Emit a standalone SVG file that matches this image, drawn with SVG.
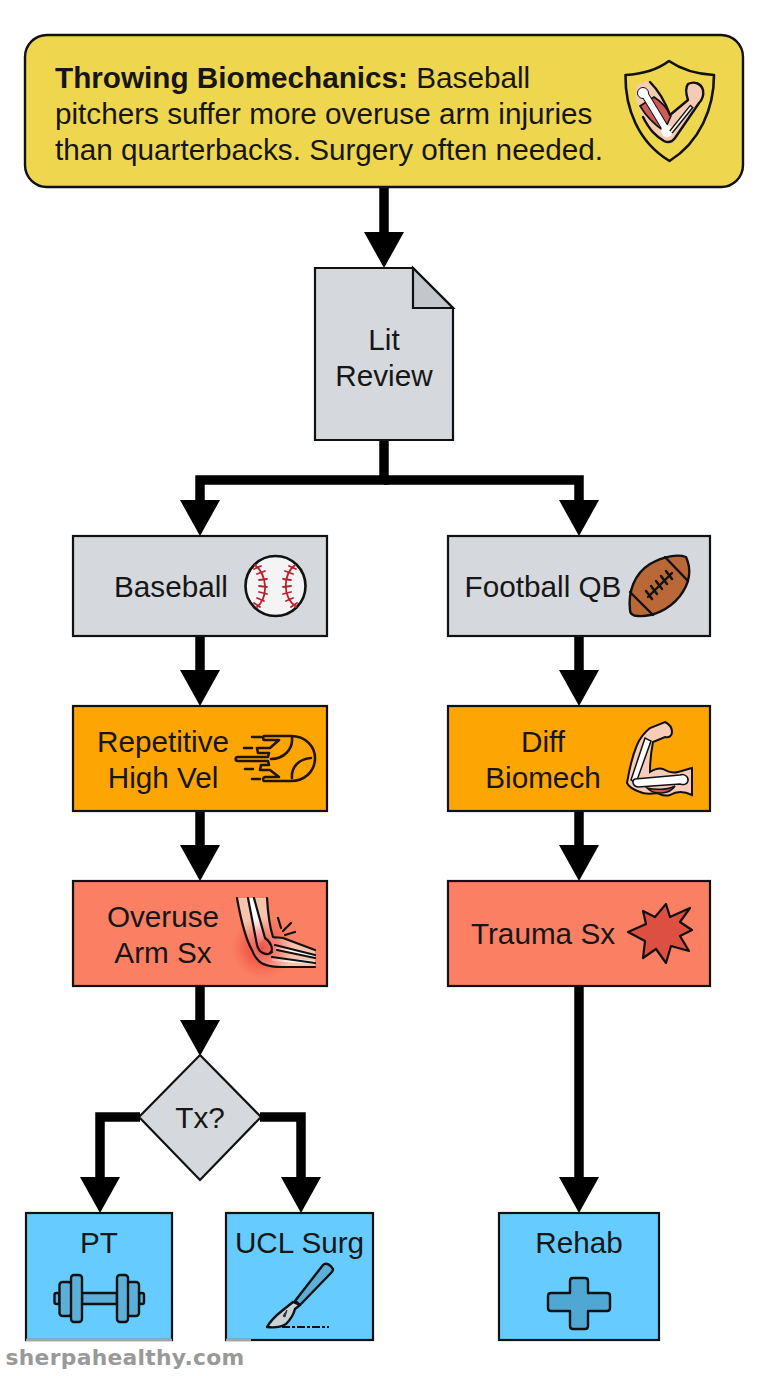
<svg xmlns="http://www.w3.org/2000/svg" width="768" height="1376" viewBox="0 0 768 1376">
<style>
text{font-family:"Liberation Sans",Arial,sans-serif;font-size:29.700px;fill:#161616;text-anchor:middle}
.n{stroke:#111;stroke-width:2.2}
.g{fill:#d5d8dc}.o{fill:#fda502}.r{fill:#fa7f63}.b{fill:#66ccff}
.c{fill:none;stroke:#000;stroke-width:9.5}
.i{stroke:#111;stroke-width:2.4;stroke-linejoin:round;stroke-linecap:round}
.l{fill:none}
.t{fill:none;stroke:#b8222c;stroke-width:1.8;stroke-linecap:round}
</style>
<defs>
<marker id="a" markerUnits="userSpaceOnUse" markerWidth="40" markerHeight="40" refX="0" refY="20" orient="auto" overflow="visible"><path d="M0 0L36 20L0 40Z" fill="#000"/></marker>
<radialGradient id="glow"><stop offset="0" stop-color="#e8322e" stop-opacity=".8"/><stop offset=".55" stop-color="#ee3f38" stop-opacity=".45"/><stop offset="1" stop-color="#f25b4a" stop-opacity="0"/></radialGradient>
</defs>
<rect width="768" height="1376" fill="#fff"/>
<g id="connectors">
<path class="c" d="M384 187V232" marker-end="url(#a)"/>
<path class="c" d="M384 440V480H200V500" marker-end="url(#a)"/>
<path class="c" d="M384 480H579V500" marker-end="url(#a)"/>
<path class="c" d="M200 636V670" marker-end="url(#a)"/>
<path class="c" d="M579 636V670" marker-end="url(#a)"/>
<path class="c" d="M200 811V845" marker-end="url(#a)"/>
<path class="c" d="M579 811V845" marker-end="url(#a)"/>
<path class="c" d="M200 986V1020" marker-end="url(#a)"/>
<path class="c" d="M579 986V1177" marker-end="url(#a)"/>
<path class="c" d="M140 1117H100V1177" marker-end="url(#a)"/>
<path class="c" d="M260 1117H301V1177" marker-end="url(#a)"/>
</g>
<g id="intro">
<rect x="25" y="35" width="718" height="152" rx="22" fill="#eed64e" stroke="#111" stroke-width="2.4"/>
<text x="55" y="87.500" style="text-anchor:start"><tspan font-weight="700">Throwing Biomechanics:</tspan> Baseball</text>
<text x="55" y="123.500" style="text-anchor:start">pitchers suffer more overuse arm injuries</text>
<text x="55" y="159.500" style="text-anchor:start">than quarterbacks. Surgery often needed.</text>
<path class="l" stroke="#111" stroke-width="2.6" stroke-linejoin="round" d="M669 61C657 70 643 74 625.500 75C625 108 638 142 669.500 161C700 142 714 108 714 75C696 74 682 70 669 61Z"/>
<path d="M637 85C642 82 647 81 650 82C660 92 666 104 670 115L688 100C686 94 685 88 688 84C694 81 701 83 703 90C704 96 702 100 699 103L675 138C672 142 668 143 664 141C655 136 648 128 643 117C638 108 634 94 637 85Z" fill="#f6cbb4"/>
<path d="M640 106L654 97C662 102 668 110 671 116L664 131C655 125 646 116 640 106Z" fill="#cf5a56" stroke="#111" stroke-width="1.600"/>
<path class="i l" d="M650 82C660 92 666 104 670 115L688 100C686 94 685 88 688 84C694 81 701 83 703 90C704 96 702 100 699 103L675 138C672 142 668 143 664 141C656 136 650 131 643 117"/>
<path d="M644 93L667 131" stroke="#111" stroke-width="8" fill="none"/>
<circle cx="643" cy="93" r="5.500" fill="#fff" stroke="#111" stroke-width="1"/>
<circle cx="667" cy="131" r="6" fill="#fff"/>
<path d="M644 93L667 131" stroke="#fff" stroke-width="6" fill="none"/>
<path d="M671 132L692 106" stroke="#111" stroke-width="4.500" fill="none"/>
<path d="M671 132L691 107" stroke="#fff" stroke-width="1.800" fill="none"/>
</g>
<g id="lit-review">
<path class="n g" d="M315 268H413L453 308V440H315Z"/>
<path class="n" fill="#c3c6ca" d="M413 268L453 308H413Z"/>
<text x="384" y="349.500">Lit</text><text x="384" y="385.500">Review</text>
</g>
<g id="baseball">
<rect class="n g" x="73" y="536" width="254" height="100"/>
<text x="171" y="596.500">Baseball</text>
<circle cx="275.500" cy="586" r="30" fill="#f4f4f4" stroke="#111" stroke-width="2.600"/>
<path class="t" stroke-width="2.200" d="M255 565C267 575 269 596 257 607M295 565C283 575 282 596 296 607"/>
<path class="t" d="M254 569l7-3M257 574l8-3M259 580l8-1M259 586l8 1M259 592l8 2M257 598l7 3M254 603l6 4M296 569l-7-3M293 574l-8-3M291 580l-8-1M291 586l-8 1M291 592l-8 2M293 598l-7 3M297 603l-6 4"/>
</g>
<g id="football-qb">
<rect class="n g" x="448" y="536" width="262" height="100"/>
<text x="543" y="596.500">Football QB</text>
<path class="i" fill="#ba6838" d="M686 557C678 554 664 556 650 564C634 574 628 592 630 610C630 614 633 616 638 616C652 617 669 610 680 596C689 584 692 570 686 557Z"/>
<path class="i l" d="M665 557L688 581M630 592L653 615M648 597L672 573M646 591l6 8M651 586l6 8M656 581l6 8M661 576l6 8M666 571l6 8"/>
</g>
<g id="repetitive">
<rect class="n o" x="73" y="706" width="254" height="105"/>
<text x="163" y="751.500">Repetitive</text><text x="163" y="787.500">High Vel</text>
<path class="l" stroke="#221305" stroke-width="2.600" stroke-linecap="round" stroke-linejoin="round" d="M264 736H291C306 736 315 747 315 758C315 772 304 781 291 781H264C263 781 263 777 265 777H279L270 770H260L261 765H269L268 761H238C235 761 235 757 238 757H268L269 753H258L257 748H270L279 740H264C263 740 263 736 264 736ZM292 738C293 750 283 759 271 759M311 758C298 759 291 768 292 778M252 737h9M244 748h8M245 769h8M252 779h8"/>
</g>
<g id="diff-biomech">
<rect class="n o" x="448" y="706" width="262" height="105"/>
<text x="543" y="751.500">Diff</text><text x="543" y="787.500">Biomech</text>
<path d="M627 783C630 765 634 752 637 745C640 738 645 732 650 728L665 722C669 724 672 728 672 732C672 736 669 738 665 737L653 742C651 752 650 762 650 772C655 769 660 768 663 769C668 772 674 773 678 772C683 771 688 769 692 768V795C686 792 678 790 670 795C664 797 660 794 657 793C650 794 644 794 640 792C634 790 629 787 627 783Z" fill="#f7cdb9" stroke="#111" stroke-width="2"/>
<path d="M647 788C655 790 668 790 675 786C670 794 655 796 647 788Z" fill="#c9555a" stroke="#111" stroke-width="1.500"/>
<path d="M645 738L631 780L636 783L651 741Z" fill="#fff" stroke="#111" stroke-width="1.500"/>
<path d="M635 779L680 775C684 773 689 777 688 781C687 785 683 785 680 784L638 787C632 786 632 780 635 779Z" fill="#fff" stroke="#111" stroke-width="1.500"/>
</g>
<g id="overuse-arm">
<rect class="n r" x="73" y="881" width="254" height="105"/>
<text x="163" y="926.500">Overuse</text><text x="163" y="962.500">Arm Sx</text>
<path d="M237 898H267C268 915 270 928 273 937L283 938L315 950V967H282C270 967 262 965 258 960C250 945 243 925 237 898Z" fill="#f6c4ac"/>
<path d="M248 898H254L265 938L257 945ZM275 945L315 955V958L277 950ZM272 957L315 961V964L272 961Z" fill="#fff"/>
<circle cx="262" cy="948" r="31" fill="url(#glow)"/>
<path class="l" stroke="#111" stroke-width="2.200" stroke-linecap="round" d="M237 898C240 915 246 940 252 950C254 956 256 958 258 960C262 965 270 967 282 967H315M248 898L257 945C259 954 268 956 272 952M254 898L265 938C271 942 274 950 270 953M267 898C268 915 270 928 273 937C276 938 280 937 283 938L315 950M275 945L315 955M277 950L315 958M272 957L315 963M278 918L281 928M291 923L283 931M295 932L285 935"/>
</g>
<g id="trauma">
<rect class="n r" x="448" y="881" width="262" height="105"/>
<text x="543" y="943.500">Trauma Sx</text>
<path fill="#dd4f40" stroke="#111" stroke-width="2.200" stroke-linejoin="round" d="M628 932L646 924L643 911L655 917L666 904L670 917L690 908L680 922L692 930L680 936L689 951L671 946L666 963L656 949L643 958L645 941Z"/>
</g>
<g id="tx">
<path class="n g" d="M200 1055L261 1117L200 1180L139 1117Z"/>
<text x="200" y="1127.500">Tx?</text>
</g>
<g id="pt">
<rect class="n b" x="26" y="1213" width="146" height="127"/>
<text x="99" y="1252.500">PT</text>
<g fill="#5cafd8" class="i"><rect x="82" y="1293" width="35" height="11"/><rect x="54.500" y="1293" width="5" height="11" rx="2"/><rect x="139" y="1293" width="5" height="11" rx="2"/><rect x="59.500" y="1282" width="12" height="34" rx="3"/><rect x="127" y="1282" width="12" height="34" rx="3"/><rect x="71" y="1275" width="11" height="47" rx="3"/><rect x="117" y="1275" width="11" height="47" rx="3"/></g>
</g>
<g id="ucl-surg">
<rect class="n b" x="226" y="1213" width="147" height="127"/>
<text x="299.500" y="1252.500">UCL Surg</text>
<path class="i" fill="#5cafd8" d="M323 1265C326 1262 331 1265 333 1269C333 1271 332 1272 331 1273L300 1305L295 1301Z"/>
<path class="i" fill="#c9d2d8" d="M293 1302L300 1305L295 1309C293 1317 288 1322 286 1324C281 1327 274 1328 267 1327C272 1318 278 1314 283 1310Z"/>
<path d="M283 1316L287 1310L285 1317Z" fill="#333" stroke="#333"/>
<path d="M282 1327H329" stroke="#111" stroke-width="2" stroke-dasharray="8 2 3 2" fill="none"/>
</g>
<g id="rehab">
<rect class="n b" x="499" y="1213" width="160" height="127"/>
<text x="579" y="1252.500">Rehab</text>
<path class="i" fill="#4fa8d4" d="M570 1281C570 1279 571 1278 573 1278H585C587 1278 588 1279 588 1281V1293H607C609 1293 610 1294 610 1296V1308C610 1310 609 1311 607 1311H588V1326C588 1328 587 1329 585 1329H573C571 1329 570 1328 570 1326V1311H551C549 1311 548 1310 548 1308V1296C548 1294 549 1293 551 1293H570Z"/>
</g>
<text x="125" y="1365" style="font-family:'DejaVu Sans',sans-serif;font-weight:700;font-size:21.800px;fill:#999;letter-spacing:.3px">sherpahealthy.com</text>
<path d="M26 1340H172M226 1340H251" stroke="#a5a5a5" stroke-width="2.500" fill="none"/>
</svg>
